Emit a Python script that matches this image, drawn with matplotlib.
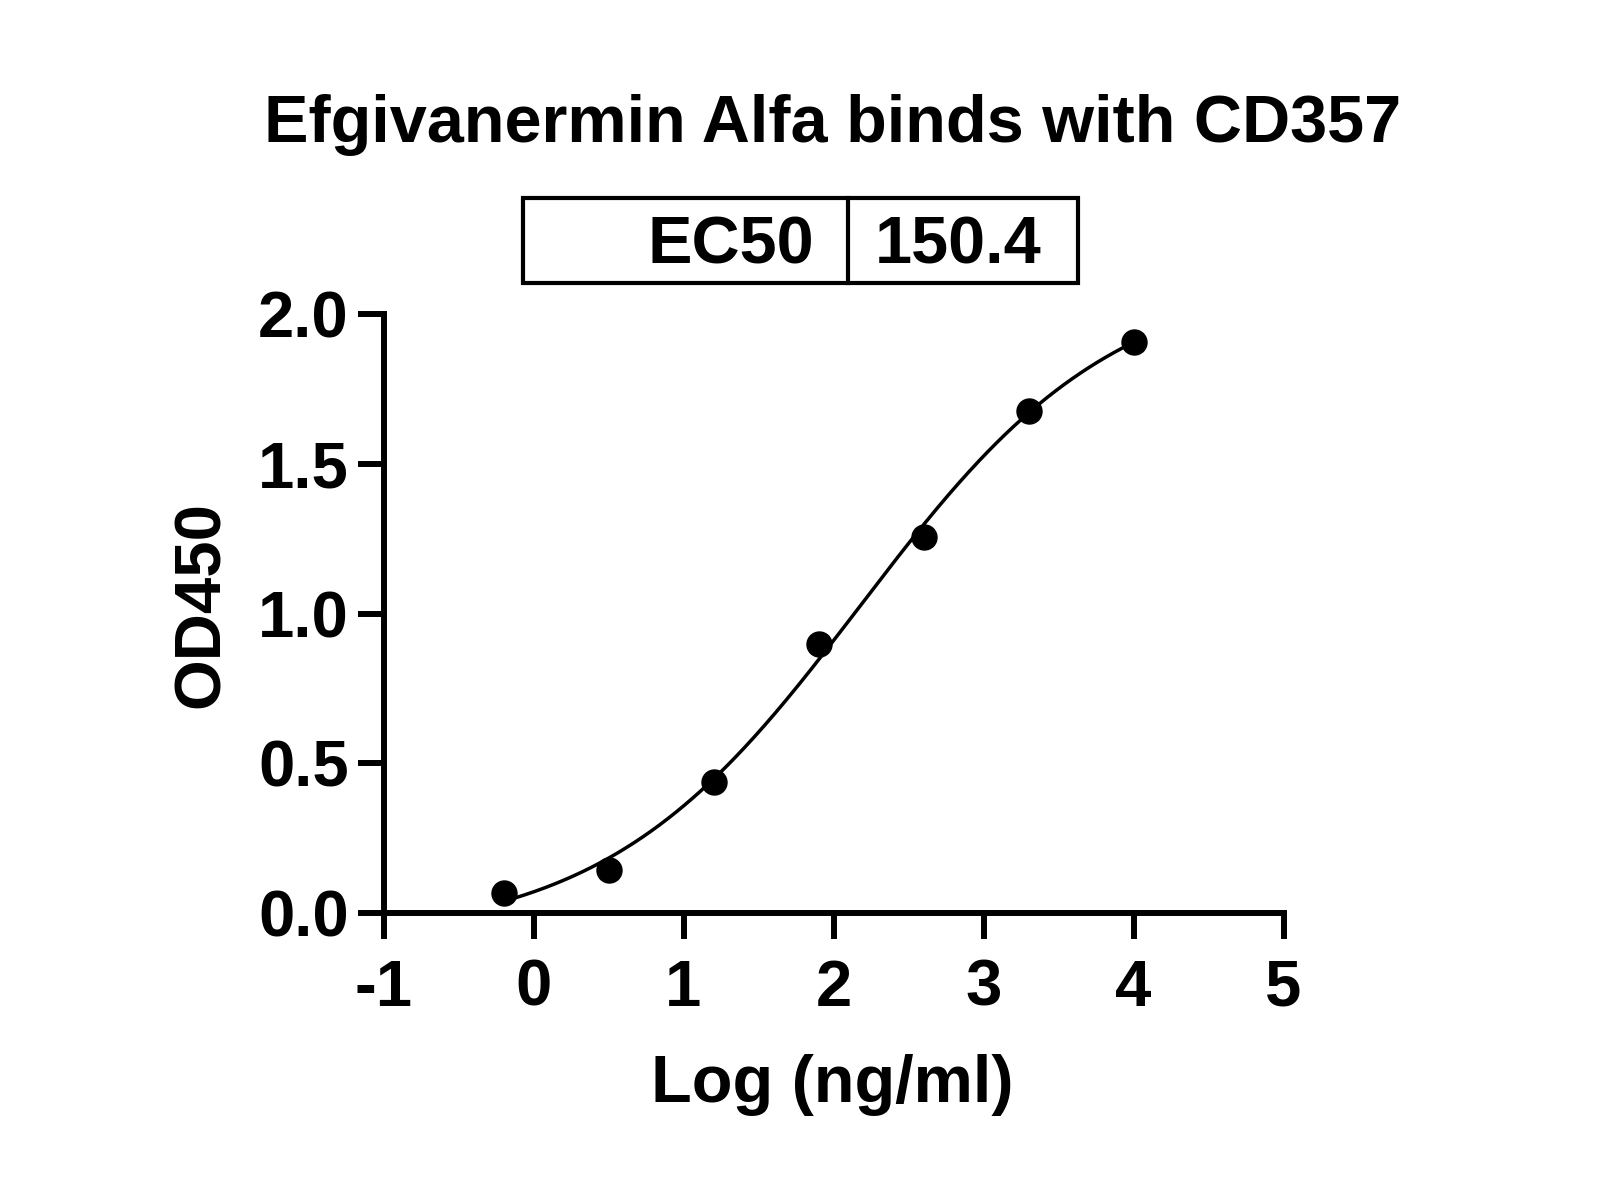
import numpy as np
import matplotlib
matplotlib.use("Agg")
import matplotlib.pyplot as plt
from matplotlib.patches import Rectangle
from matplotlib.lines import Line2D

# ---- data ----
log_conc = [-0.2, 0.5, 1.2, 1.9, 2.6, 3.3, 4.0]
od450 = [0.067, 0.144, 0.437, 0.898, 1.256, 1.676, 1.905]
ec50 = 150.4
x_ticks = [-1, 0, 1, 2, 3, 4, 5]
x_tick_labels = ["-1", "0", "1", "2", "3", "4", "5"]
y_ticks = [0.0, 0.5, 1.0, 1.5, 2.0]
y_tick_labels = ["0.0", "0.5", "1.0", "1.5", "2.0"]
title = "Efgivanermin Alfa binds with CD357"
x_label = "Log (ng/ml)"
y_label = "OD450"

# ---- 4PL fit (log EC50 fixed to reported EC50) ----
xd = np.array(log_conc)
yd = np.array(od450)
logc = np.log10(ec50)
best = None
for b in np.linspace(-0.3, 0.1, 41):
    for t in np.linspace(1.9, 2.8, 91):
        for h in np.linspace(0.3, 1.2, 91):
            pred = b + (t - b) / (1 + 10 ** ((logc - xd) * h))
            err = np.sum((pred - yd) ** 2)
            if best is None or err < best[0]:
                best = (err, b, t, h)
_, B, T, H = best
xc = np.linspace(min(log_conc), max(log_conc), 300)
yc = B + (T - B) / (1 + 10 ** ((logc - xc) * H))

plt.rcParams['font.family'] = ['Liberation Sans', 'DejaVu Sans']
plt.rcParams['font.weight'] = 'bold'

W, Hpx = 1600, 1200
fig = plt.figure(figsize=(16, 12), dpi=100)
ax = fig.add_axes([383.5 / W, 1 - 913 / Hpx, 900 / W, 599 / Hpx])

ax.plot(xc, yc, color='black', lw=2.5, zorder=2)
ax.plot(log_conc, od450, 'o', color='black', ms=18, zorder=3, clip_on=False)

ax.set_xlim(-1, 5)
ax.set_ylim(0, 2.0)
ax.set_xticks(x_ticks)
ax.set_xticklabels(x_tick_labels)
ax.set_yticks(y_ticks)
ax.set_yticklabels(y_tick_labels)
for s in ['top', 'right']:
    ax.spines[s].set_visible(False)
for s in ['left', 'bottom']:
    ax.spines[s].set_linewidth(4.3)
    ax.spines[s].set_capstyle('projecting')
ax.tick_params(axis='both', width=4.3, length=19, direction='out',
               labelsize=47)
ax.tick_params(axis='x', pad=14)
ax.tick_params(axis='y', pad=6)
for lab in ax.get_xticklabels() + ax.get_yticklabels():
    lab.set_fontweight('bold')

fig.text(832.5 / W, 1 - 1102 / Hpx, x_label, ha='center', va='baseline',
         fontsize=48, fontweight='bold')
fig.text(202 / W, 1 - 605 / Hpx, y_label, ha='center', va='center',
         rotation=90, fontsize=47, fontweight='bold')

fig.text(832.5 / W, 1 - 142 / Hpx, title, ha='center', va='baseline',
         fontsize=48, fontweight='bold')

# EC50 table box
bx0, bx1 = 523 / W, 1078 / W
by0, by1 = 1 - 283 / Hpx, 1 - 198 / Hpx
fig.patches.append(Rectangle((bx0, by0), bx1 - bx0, by1 - by0,
                             transform=fig.transFigure, fill=False,
                             lw=3.0, edgecolor='black'))
dx = 848 / W
fig.lines.append(Line2D([dx, dx], [by0, by1], transform=fig.transFigure,
                        color='black', lw=3.0))
yb = 1 - 263 / Hpx
fig.text(814 / W, yb, "EC50", ha='right', va='baseline', fontsize=48,
         fontweight='bold')
fig.text(875 / W, yb, f"{ec50}", ha='left', va='baseline', fontsize=48,
         fontweight='bold')

fig.savefig("out.png", dpi=100)
